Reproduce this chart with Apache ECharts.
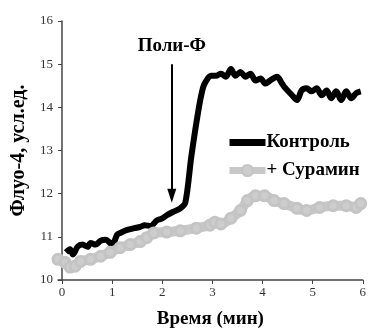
<!DOCTYPE html>
<html lang="ru">
<head>
  <meta charset="UTF-8">
  <script src="https://cdn.jsdelivr.net/npm/echarts@6/dist/echarts.min.js"></script>
  <style>
    html, body { margin: 0; padding: 0; background: #fff; }
    #chart { width: 369px; height: 334px; }
  </style>
</head>
<body>
<div id="chart"></div>
<script>
  // время (мин) и сигнал
  var controlTime = [0.08, 0.16, 0.22, 0.31, 0.41, 0.51, 0.57, 0.67, 0.77, 0.87, 0.96, 1.0, 1.10, 1.16, 1.30, 1.44, 1.56, 1.65, 1.77, 1.89, 1.99, 2.09, 2.22, 2.36, 2.46, 2.58, 2.72, 2.81, 2.87, 2.97, 3.07, 3.17, 3.27, 3.37, 3.46, 3.56, 3.66, 3.76, 3.86, 3.96, 4.06, 4.15, 4.29, 4.39, 4.43, 4.59, 4.69, 4.78, 4.88, 4.98, 5.08, 5.18, 5.28, 5.37, 5.47, 5.57, 5.67, 5.77, 5.87, 5.96];
  var controlValues = [10.64, 10.71, 10.59, 10.77, 10.82, 10.77, 10.86, 10.82, 10.91, 10.93, 10.86, 10.8, 11.05, 11.09, 11.16, 11.2, 11.23, 11.27, 11.25, 11.38, 11.42, 11.5, 11.58, 11.66, 11.79, 12.86, 13.92, 14.44, 14.6, 14.73, 14.73, 14.78, 14.71, 14.89, 14.73, 14.82, 14.71, 14.78, 14.62, 14.67, 14.55, 14.62, 14.71, 14.55, 14.48, 14.28, 14.17, 14.39, 14.44, 14.37, 14.44, 14.28, 14.39, 14.21, 14.37, 14.17, 14.37, 14.21, 14.33, 14.37];

  var suraminTime = [-0.08, 0.06, 0.16, 0.26, 0.37, 0.57, 0.77, 0.96, 1.16, 1.36, 1.56, 1.69, 1.83, 2.09, 2.36, 2.68, 2.95, 3.05, 3.17, 3.37, 3.56, 3.70, 3.86, 4.04, 4.23, 4.43, 4.69, 4.88, 5.14, 5.41, 5.67, 5.87, 5.96];
  var suraminValues = [10.48, 10.41, 10.3, 10.32, 10.43, 10.48, 10.55, 10.64, 10.75, 10.82, 10.89, 10.98, 11.09, 11.11, 11.14, 11.2, 11.27, 11.34, 11.3, 11.43, 11.61, 11.84, 11.95, 11.95, 11.84, 11.77, 11.66, 11.61, 11.68, 11.72, 11.72, 11.68, 11.77];

  var xTicks = [0, 1, 2, 3, 4, 5, 6];
  // стрелка "Поли-Ф": время добавления и границы по оси y
  var arrowTime = 2.19;
  var arrowFrom = 15.0;
  var arrowTo = 11.95;

  function pairs(xs, ys) {
    return xs.map(function (x, i) { return [x, ys[i]]; });
  }

  var serif = 'Liberation Serif';
  var myChart = echarts.init(document.getElementById('chart'), null, { renderer: 'canvas' });

  var option = {
    animation: false,
    grid: { left: 58, right: 2, top: 21, bottom: 48 },
    legend: {
      orient: 'vertical',
      left: 221,
      top: 128,
      itemWidth: 36,
      itemHeight: 14,
      itemGap: 9,
      lineStyle: { width: 7 },
      textStyle: { fontFamily: serif, fontWeight: 'bold', fontSize: 19, color: '#000', padding: [0, 0, 0, -4] },
      data: [
        { name: 'Контроль', icon: 'path://M0 0H36V7H0Z', itemStyle: { color: '#000' } },
        { name: '+ Сурамин' }
      ]
    },
    xAxis: {
      type: 'value',
      min: -0.08,
      max: 6,
      name: 'Время (мин)',
      nameLocation: 'middle',
      nameGap: 30,
      nameTextStyle: { fontFamily: serif, fontWeight: 'bold', fontSize: 19, color: '#000' },
      splitLine: { show: false },
      axisLine: { show: true, onZero: false, lineStyle: { color: '#444', width: 1.5 } },
      axisTick: { show: true, length: 4, customValues: xTicks, lineStyle: { color: '#444' } },
      axisLabel: { customValues: xTicks, fontFamily: serif, fontSize: 13, color: '#333', margin: 6 }
    },
    yAxis: {
      type: 'value',
      min: 10,
      max: 16,
      interval: 1,
      name: 'Флуо-4, усл.ед.',
      nameLocation: 'middle',
      nameRotate: 90,
      nameGap: 27,
      nameTextStyle: { fontFamily: serif, fontWeight: 'bold', fontSize: 20, color: '#000' },
      splitLine: { show: false },
      axisLine: { show: true, lineStyle: { color: '#444', width: 1.5 } },
      axisTick: { show: true, length: 4, lineStyle: { color: '#444' } },
      axisLabel: { fontFamily: serif, fontSize: 13, color: '#333', margin: 5 }
    },
    series: [
      {
        name: 'Контроль',
        type: 'line',
        data: pairs(controlTime, controlValues),
        symbol: 'none',
        smooth: 0.3,
        z: 2,
        lineStyle: { color: '#000', width: 6 },
        itemStyle: { color: '#000' },
        markLine: {
          silent: true,
          symbol: ['none', 'triangle'],
          symbolSize: [9, 14],
          symbolRotate: 180,
          label: { show: false },
          lineStyle: { color: '#000', width: 2, type: 'solid' },
          data: [[{ coord: [arrowTime, arrowFrom] }, { coord: [arrowTime, arrowTo] }]]
        },
        markPoint: {
          silent: true,
          symbol: 'circle',
          symbolSize: 0,
          label: {
            show: true,
            formatter: 'Поли-Ф',
            fontFamily: serif,
            fontWeight: 'bold',
            fontSize: 19,
            color: '#000'
          },
          data: [{ coord: [arrowTime, 15.43] }]
        }
      },
      {
        name: '+ Сурамин',
        type: 'line',
        data: pairs(suraminTime, suraminValues),
        symbol: 'circle',
        symbolSize: 10,
        smooth: 0.3,
        z: 3,
        lineStyle: { color: '#c8c8c8', width: 10 },
        itemStyle: { color: '#cdcdcd', borderColor: '#c4c4c4', borderWidth: 3 }
      }
    ]
  };

  myChart.setOption(option);
</script>
</body>
</html>
